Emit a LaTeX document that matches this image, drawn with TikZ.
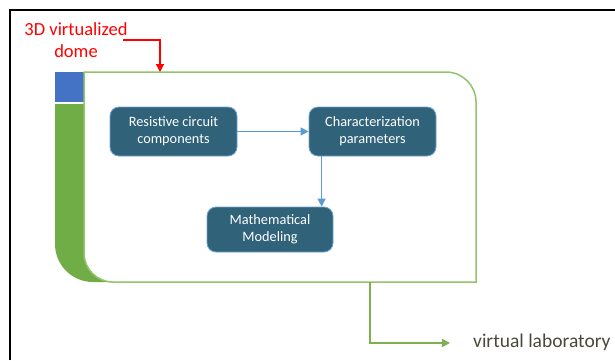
\documentclass[tikz,border=0pt]{standalone}
\usepackage{fontspec}
\setmainfont{Carlito}
\usetikzlibrary{arrows.meta,calc}
\definecolor{boxfill}{HTML}{30627A}
\definecolor{boxedge}{HTML}{6FA3D6}
\definecolor{flowblue}{HTML}{5B9BD5}
\definecolor{gfill}{HTML}{70AD47}
\definecolor{gline}{HTML}{92C46A}
\definecolor{garrow}{HTML}{7FB04E}
\definecolor{bsq}{HTML}{4472C4}
\definecolor{labgray}{HTML}{4A4838}
\tikzset{
  stepbox/.style={draw=boxedge, line width=0.8pt, fill=boxfill, rounded corners=9pt,
    text=white, align=center, minimum width=127pt, minimum height=49pt, inner sep=0pt,
    font=\fontsize{14.3}{17}\selectfont},
  flow/.style={draw=flowblue, line width=1.4pt, -{Triangle[length=8pt,width=8pt]}},
  gflow/.style={draw=garrow, line width=1.5pt, -{Triangle[length=8pt,width=8pt]}},
  rflow/.style={draw=red, line width=1.3pt, -{Triangle[length=8pt,width=8pt]}},
}
\begin{document}
\begin{tikzpicture}[x=1pt,y=1pt]
\useasboundingbox (0,0) rectangle (615,360);
% outer frame
\draw[line width=2pt, black] (9.5,0) -- (9.5,350.5) -- (615,350.5);
% green band
\fill[gfill] (55,256) -- (55,116) arc[start angle=180,end angle=270,radius=38] -- (130,78) -- (130,256) -- cycle;
% blue square
\fill[bsq] (55,258) rectangle (84,288);
% main container
\draw[gline, line width=1.5pt, fill=white] (84,288) -- (446,288) arc[start angle=90,end angle=0,radius=30]
  -- (476,78) -- (113,78) arc[start angle=270,end angle=180,radius=29] -- cycle;
% steps
\node[stepbox] (b1) at (173.5,228.5) {Resistive circuit\\components};
\node[stepbox] (b2) at (372.5,228.5) {Characterization\\parameters};
\node[stepbox, minimum width=126pt, minimum height=45pt] (m) at (270,130.5) {Mathematical\\Modeling};
\draw[flow] (b1.east) -- (b2.west);
\coordinate (v) at ($(b2.south west)+(13,0)$);
\draw[flow] (v) -- (v |- m.north);
% red label
\node[text=red, align=center, anchor=base, font=\fontsize{18.5}{22}\selectfont] (lbl) at (76,303) {3D virtualized\\dome};
\coordinate (rs) at (123,320);
\coordinate (rt) at (160,288);
\draw[rflow] (rs) -| (rt);
% virtual laboratory
\coordinate (gs) at (370,78);
\node[anchor=base west, text=labgray, font=\fontsize{19.5}{22}\selectfont, inner sep=0pt] (vl) at (473,13) {virtual laboratory};
\coordinate (ge) at (450,17);
\draw[gflow] (gs) |- (ge);
\end{tikzpicture}
\end{document}
